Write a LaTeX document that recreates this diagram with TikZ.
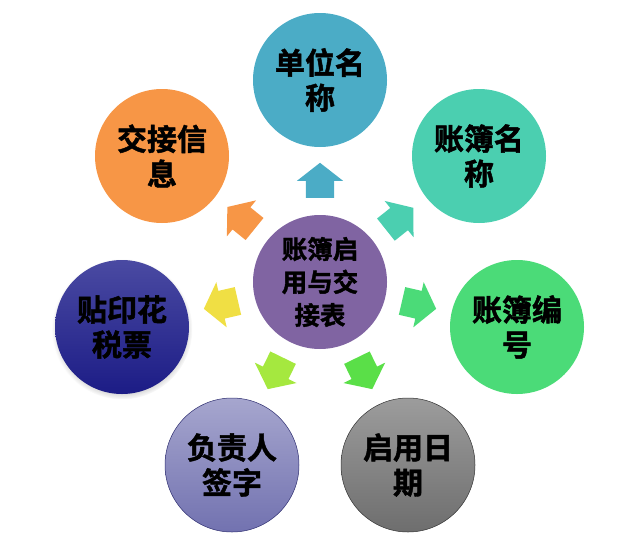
\documentclass[tikz,border=0pt]{standalone}
\usepackage{fontspec}
\setmainfont{Noto Sans CJK SC}[BoldFont={* Bold},BoldFeatures={FakeBold=1.5}]
\usetikzlibrary{shapes.arrows}
\usetikzlibrary{shadows}
\definecolor{tealc}{HTML}{4BACC6}
\definecolor{mintc}{HTML}{4BCFB0}
\definecolor{greenc}{HTML}{4BDB78}
\definecolor{limec}{HTML}{5ADF48}
\definecolor{yellowgreenc}{HTML}{A5E83F}
\definecolor{yellowc}{HTML}{F0DF44}
\definecolor{orangec}{HTML}{F79646}
\definecolor{purplec}{HTML}{8064A2}
\definecolor{graytop}{HTML}{9C9C9C}
\definecolor{graybot}{HTML}{6E6E6E}
\definecolor{violettop}{HTML}{A6A6CE}
\definecolor{violetbot}{HTML}{7272B0}
\definecolor{violetline}{HTML}{2E2E70}
\definecolor{navytop}{HTML}{4A4AA2}
\definecolor{navybot}{HTML}{1C1C86}
\tikzset{
  topic/.style={circle,minimum size=134pt,inner sep=0pt,align=center,font=\fontsize{30}{35}\selectfont\bfseries},
  hub/.style={topic,font=\fontsize{25.5}{33}\selectfont\bfseries,fill=purplec},
  pointer/.style={single arrow,draw=none,inner xsep=0pt,inner ysep=14pt,minimum width=46pt,minimum height=35pt,single arrow head extend=9pt,single arrow tip angle=104,single arrow head indent=0pt,anchor=tail,rotate=#1}
}
\begin{document}
\begin{tikzpicture}[x=1pt,y=-1pt]
  \useasboundingbox (0,0) rectangle (639,546);
  \node[hub](center) at (320,282) {账簿启\\用与交\\接表};
  \node[topic,fill=tealc](unit) at (320,80) {单位名\\称};
  \node[topic,fill=mintc](book) at (479,156) {账簿名\\称};
  \node[topic,fill=greenc](number) at (517,327) {账簿编\\号};
  \node[topic,top color=graytop,bottom color=graybot,draw=black!80,line width=0.5pt](date) at (408,465) {启用日\\期};
  \node[topic,top color=violettop,bottom color=violetbot,draw=violetline,line width=0.5pt](sign) at (232,465) {负责人\\签字};
  \node[topic,top color=navytop,bottom color=navybot,circular drop shadow={shadow xshift=0pt,shadow yshift=-2pt,shadow scale=1.05,opacity=0.5}](stamp) at (122,327) {贴印花\\税票};
  \node[topic,fill=orangec](handover) at (162,156) {交接信\\息};
  \foreach \name/\ang/\col in {unit/90/tealc,book/38.5/mintc,number/-13/greenc,date/-64/limec,sign/-116/yellowgreenc,stamp/193/yellowc,handover/141/orangec}{
    \node[pointer=\ang,fill=\col] (to\name) at ([shift={(-\ang:84)}]center) {};
  }
\end{tikzpicture}
\end{document}
